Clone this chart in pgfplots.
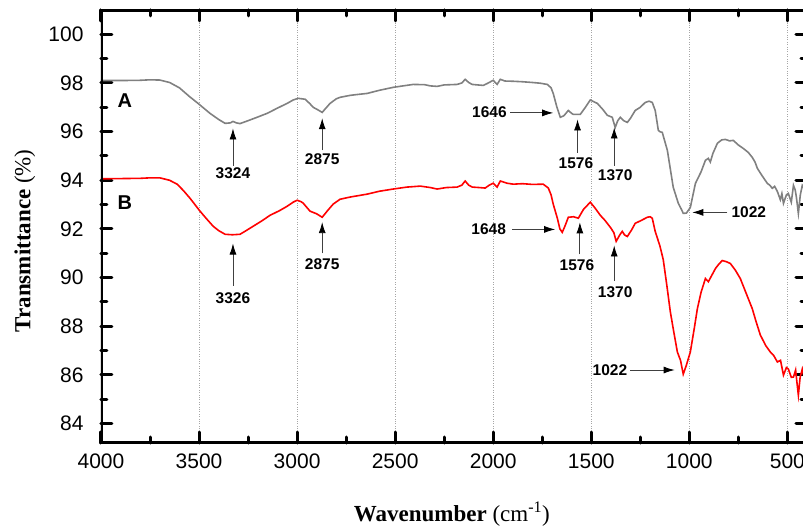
\documentclass[border=0pt]{standalone}
\usepackage{pgfplots}
\pgfplotsset{compat=1.18}
\usepackage{pgfplotstable}
\usepackage{fontspec}
\setmainfont{Liberation Sans}
\newfontfamily\labserif{Liberation Serif}
\usetikzlibrary{arrows.meta}

% sample A (gray)
\pgfplotstableread{
wn T
4000 98.10
3900 98.10
3800 98.11
3750 98.13
3700 98.12
3650 98.02
3600 97.80
3550 97.45
3505 97.16
3444 96.75
3400 96.50
3367 96.34
3340 96.36
3327 96.42
3310 96.36
3291 96.33
3250 96.45
3204 96.59
3150 96.76
3102 96.96
3051 97.16
3020 97.30
2995 97.37
2959 97.33
2935 97.15
2918 97.00
2895 96.90
2872 96.79
2855 96.95
2832 97.16
2800 97.35
2781 97.41
2730 97.49
2700 97.52
2643 97.57
2580 97.70
2510 97.82
2460 97.88
2408 97.94
2350 97.93
2320 97.88
2286 97.86
2250 97.92
2184 97.94
2160 98.00
2143 98.15
2125 98.02
2107 97.94
2080 97.92
2051 97.90
2030 97.98
2000 98.11
1980 97.94
1964 98.15
1940 98.08
1898 98.07
1850 98.05
1800 98.02
1760 97.99
1724 97.94
1705 97.80
1694 97.57
1675 97.00
1658 96.59
1640 96.65
1617 96.87
1600 96.75
1592 96.71
1556 96.71
1530 97.00
1505 97.30
1485 97.22
1469 97.16
1440 96.90
1418 96.67
1393 96.59
1378 96.17
1365 96.45
1352 96.59
1335 96.45
1316 96.38
1300 96.55
1276 96.87
1250 97.00
1225 97.20
1205 97.25
1189 97.20
1174 96.87
1158 96.05
1148 95.99
1138 95.97
1112 95.23
1082 93.71
1056 93.05
1040 92.80
1031 92.64
1015 92.65
995 92.88
969 93.87
940 94.35
918 94.82
903 94.90
893 94.75
880 95.10
857 95.52
835 95.66
816 95.68
795 95.62
776 95.64
750 95.45
725 95.31
700 95.15
679 94.94
665 94.75
653 94.49
630 94.20
602 93.87
590 93.80
577 93.67
565 93.75
551 93.54
536 93.20
528 93.45
520 93.05
505 93.40
495 93.46
480 93.10
469 93.79
460 93.60
454 93.30
444 92.64
434 93.40
424 93.79
410 93.60
400 93.70
}\specA

% sample B (red)
\pgfplotstableread{
wn T
4000 94.06
3900 94.07
3800 94.08
3750 94.10
3700 94.10
3650 94.00
3612 93.84
3580 93.58
3546 93.26
3495 92.73
3460 92.40
3428 92.11
3400 91.93
3367 91.78
3330 91.76
3291 91.78
3260 91.93
3224 92.11
3180 92.33
3138 92.56
3090 92.75
3051 92.93
3020 93.10
3000 93.18
2980 93.12
2969 93.06
2950 92.88
2934 92.73
2900 92.62
2872 92.48
2845 92.75
2816 93.02
2781 93.22
2730 93.31
2643 93.43
2580 93.55
2510 93.64
2440 93.72
2372 93.76
2320 93.70
2286 93.64
2240 93.70
2184 93.72
2160 93.80
2143 93.97
2125 93.80
2107 93.72
2070 93.70
2041 93.68
2020 93.80
2000 93.88
1980 93.72
1964 93.97
1930 93.88
1898 93.84
1850 93.86
1800 93.83
1745 93.84
1719 93.68
1705 93.40
1694 93.02
1673 92.44
1660 92.00
1648 91.86
1635 92.10
1617 92.48
1590 92.50
1566 92.44
1540 92.80
1505 93.10
1480 92.85
1454 92.56
1430 92.35
1403 92.07
1385 91.85
1373 91.49
1355 91.75
1342 91.90
1330 91.75
1316 91.69
1295 91.95
1276 92.23
1245 92.35
1214 92.48
1200 92.50
1189 92.44
1174 91.90
1150 91.30
1133 90.74
1115 89.70
1097 88.60
1080 87.80
1061 86.94
1045 86.60
1031 86.03
1015 86.40
995 86.94
975 87.90
959 88.72
940 89.40
918 89.96
903 89.83
885 90.10
867 90.37
850 90.55
832 90.70
810 90.65
791 90.58
765 90.30
740 89.96
710 89.35
679 88.72
660 88.20
638 87.64
610 87.20
587 86.94
570 86.80
551 86.53
535 86.60
520 85.99
505 86.30
495 86.24
480 85.90
469 85.91
458 86.20
450 85.60
444 85.17
435 85.90
424 86.24
412 85.80
400 86.00
}\specB

\tikzset{
  pk/.style={draw=black!75, line width=0.8pt, -{Latex[length=11pt,width=7pt,color=black]}},
  pl/.style={font=\bfseries\fontsize{15.5}{18}\selectfont, inner sep=1pt},
}

\begin{document}
\begin{tikzpicture}
\begin{axis}[
  scale only axis,
  width=706pt, height=433pt,
  x dir=reverse,
  xmin=400, xmax=4000,
  ymin=83.2, ymax=101,
  xtick={500,1000,...,4000},
  ytick={84,86,...,100},
  minor x tick num=1, minor y tick num=1,
  major tick length=11pt, minor tick length=6pt,
  major tick style={line width=3pt, black, line cap=round},
  minor tick style={line width=3pt, black, line cap=round},
  xmajorgrids,
  grid style={dotted, black!35, line width=0.9pt},
  /pgf/number format/assume math mode=true,
  /pgf/number format/1000 sep={},
  ticklabel style={font=\fontsize{21}{25}\selectfont},
  xticklabel style={yshift=-7pt},
  yticklabel style={xshift=-14pt},
  xlabel={\labserif\fontsize{23}{27}\selectfont\textbf{Wavenumber} (cm\textsuperscript{-1})},
  ylabel={\labserif\fontsize{23}{27}\selectfont\textbf{Transmittance} (\%)},
  xlabel style={at={(axis description cs:0.497,-0.182)}, anchor=base},
  ylabel style={at={(axis description cs:-0.108,0.467)}, anchor=center},
]
\addplot[color=black!50, line width=1.6pt] table[x=wn, y=T] {\specA};
\addplot[color=red, line width=1.6pt] table[x=wn, y=T] {\specB};

% heavy frame
\draw[line width=4pt, black] (rel axis cs:0,0) rectangle (rel axis cs:1,1);

\node[font=\bfseries\fontsize{20}{24}\selectfont] at (3878,97.28) {A};
\node[font=\bfseries\fontsize{20}{24}\selectfont] at (3878,93.08) {B};

% peak labels, sample A
\draw[pk] (3327,94.60) -- (3327,96.13);
\node[pl] at (3327,94.28) {3324};
\draw[pk] (2872,95.23) -- (2872,96.55);
\node[pl] at (2872,94.86) {2875};
\draw[pk] (1913,96.77) -- (1694,96.77);
\node[pl, anchor=east] at (1925,96.80) {1646};
\draw[pk] (1570,95.14) -- (1570,96.50);
\node[pl] at (1578,94.69) {1576};
\draw[pk] (1383,94.60) -- (1383,96.17);
\node[pl] at (1378,94.20) {1370};
\draw[pk] (806,92.68) -- (985,92.68);
\node[pl, anchor=west] at (791,92.68) {1022};

% peak labels, sample B
\draw[pk] (3327,89.67) -- (3327,91.40);
\node[pl] at (3327,89.14) {3326};
\draw[pk] (2872,91.00) -- (2872,92.28);
\node[pl] at (2872,90.55) {2875};
\draw[pk] (1903,91.98) -- (1684,91.98);
\node[pl, anchor=east] at (1929,91.98) {1648};
\draw[pk] (1558,90.95) -- (1558,92.27);
\node[pl] at (1573,90.50) {1576};
\draw[pk] (1383,89.85) -- (1383,91.32);
\node[pl] at (1378,89.40) {1370};
\draw[pk] (1301,86.20) -- (1075,86.20);
\node[pl, anchor=east] at (1311,86.20) {1022};
\end{axis}
\pgfresetboundingbox
\path[use as bounding box] (-101pt,-84pt) rectangle (702pt,443pt);
\end{tikzpicture}
\end{document}
